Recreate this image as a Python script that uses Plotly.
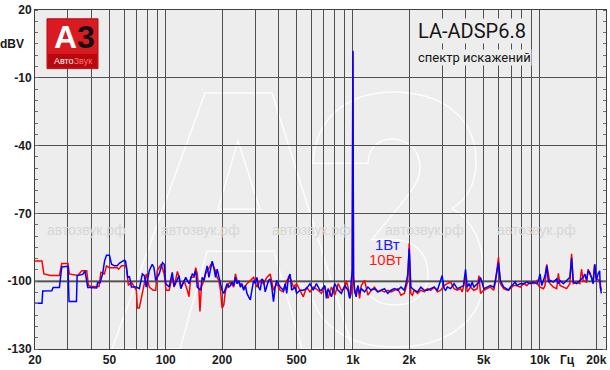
import math
import plotly.graph_objects as go

# ---------------- data ----------------
freq_blue = [20, 21.8, 22.0, 24.6, 25.0, 27.0, 27.8, 30.0, 30.4, 33.3, 33.6, 36.0, 37.0, 38.3, 39.2,
             42.7, 43.2, 44.5, 45.9, 47.1, 48.2, 50.0, 51.3, 53.2, 55.0, 56.6, 60.1, 61.0, 62.6, 64.0,
             65.5, 69.6, 72.2, 75.0, 76.8, 78.6, 81.6, 84.7, 86.5, 88.3, 92.2, 96.0, 98.0, 100.0, 104.2,
             108.3, 110.8, 117.8, 120.3, 125.2, 127.8, 133.1, 138.6, 141.5, 144.5, 147.3, 153.6, 156.6,
             159.9, 163.2, 166.5, 170, 173.5, 177, 180.7, 184.5, 188.2, 192.1, 196.1, 200, 204.2, 208.6,
             212.6, 217, 221.6, 226, 230.8, 235.6, 240.4, 245.4, 250.4, 255.4, 260.8, 266.2, 271.6, 277.2,
             283, 288.6, 294.8, 301, 307, 313.2, 319.8, 326.2, 333, 340, 346.8, 354, 361.4, 368.6, 376.4,
             384.2, 391.8, 408.4, 425.4, 434.2, 442.8, 452.2, 461.6, 470.8, 490.8, 500.4, 521.8, 543.2,
             565.6, 589.6, 613.8, 639, 666.2, 679, 708, 722, 737, 768, 800, 834, 868, 905, 942, 962, 981,
             992, 1000, 1008, 1022, 1041, 1064, 1086, 1108, 1155, 1203, 1252, 1305, 1359, 1415, 1475, 1536,
             1599, 1667, 1736, 1807, 1884, 1922, 1965, 2000, 2040, 2128, 2216, 2308, 2406, 2504, 2608,
             2718, 2830, 2948, 3000, 3072, 3130, 3198, 3330, 3472, 3614, 3764, 3900, 4000, 4084, 4172,
             4254, 4342, 4434, 4522, 4616, 4714, 4808, 4908, 5010, 5218, 5432, 5662, 5774, 6000, 6140,
             6398, 6662, 6802, 6936, 7230, 7374, 7528, 7840, 8174, 8510, 8860, 9236, 9616, 9818, 10000,
             10220, 10436, 10642, 10866, 11092, 11312, 11792, 12282, 12538, 12786, 13330, 13878, 14448,
             14752, 15064, 15686, 16332, 17024, 17360, 17724, 18096, 18452, 18838, 19232, 19612, 20000,
             20440, 20840, 21000, 21280]
db_blue = [-109.8, -109.8, -104.3, -104.2, -102.8, -102.8, -93.7, -93.4, -109.0, -109.0, -97.5, -97.0,
           -95.5, -102.8, -102.8, -103.0, -100.7, -100.7, -97.0, -91.0, -88.5, -88.5, -92.5, -93.2, -93.2,
           -92.0, -90.7, -91.1, -98.3, -98.0, -102.6, -102.6, -103.3, -96.8, -97.5, -102.6, -95.4, -92.5,
           -94.0, -99.7, -96.8, -91.8, -92.5, -101.1, -102.6, -96.1, -102.3, -97.5, -103.3, -99.7, -98.3,
           -101.1, -96.8, -97.5, -95.4, -102.6, -104.0, -98.3, -99.7, -96.1, -93.2, -98.3, -94.0, -91.1,
           -94.0, -98.3, -94.7, -98.3, -101.1, -104.0, -105.4, -102.6, -101.1, -102.6, -101.9, -100.4,
           -101.9, -98.3, -101.1, -99.7, -102.6, -101.1, -104.0, -101.9, -105.4, -106.9, -108.3, -104.0,
           -99.7, -101.1, -98.3, -102.6, -104.0, -99.0, -99.7, -104.7, -102.6, -99.7, -99.0, -102.6,
           -109.0, -102.6, -99.7, -102.6, -104.0, -101.1, -105.4, -98.3, -96.8, -104.0, -102.6, -105.4,
           -104.0, -104.0, -103.3, -101.1, -104.0, -101.1, -104.0, -104.0, -101.9, -107.6, -103.3, -106.9,
           -101.1, -104.0, -105.4, -101.9, -104.0, -107.6, -99.7, -95.0, 2.0, -98.0, -104.0, -106.9, -101.9,
           -105.4, -103.3, -104.7, -102.6, -104.0, -103.3, -104.7, -104.0, -103.3, -105.4, -104.0, -103.3,
           -104.0, -102.6, -104.0, -101.1, -97.0, -85.5, -102.6, -104.0, -104.7, -102.6, -104.0, -104.0,
           -103.3, -102.6, -104.0, -100.0, -97.5, -103.3, -104.0, -102.6, -103.3, -101.1, -103.3, -102.6,
           -102.0, -94.7, -102.6, -101.1, -102.6, -100.4, -102.6, -101.9, -101.1, -100.4, -98.3, -101.1,
           -103.3, -102.6, -101.9, -102.6, -99.7, -91.8, -99.7, -102.6, -103.3, -104.0, -102.6, -101.1,
           -100.4, -101.9, -101.1, -101.1, -100.4, -101.1, -100.4, -101.1, -99.7, -96.8, -101.9, -99.7,
           -97.5, -93.2, -100.4, -99.7, -100.4, -99.0, -101.1, -99.7, -101.1, -99.7, -98.3, -89.6, -100.4,
           -101.1, -99.7, -98.3, -96.8, -99.7, -95.4, -96.1, -98.3, -101.1, -92.5, -99.7, -96.8, -95.4,
           -102.6, -105.4]

freq_red = [20, 21.8, 22.3, 24.2, 27.0, 27.8, 30.0, 30.5, 33.9, 35.6, 37.8, 38.6, 40.0, 44.0, 45.0, 47.0,
            48.2, 50.0, 55.0, 56.0, 58.0, 61.5, 63.1, 65.5, 68.0, 69.6, 70.5, 72.2, 74.9, 78.7, 81.6,
            85.7, 88.3, 90.0, 94.5, 98.0, 100.4, 104.2, 108.3, 110.8, 115.4, 117.8, 120.3, 125.2, 130.4,
            133.1, 135.9, 141.5, 144.5, 147.3, 150.4, 152.3, 155, 159.9, 163.2, 166.5, 173.5, 177, 180.7,
            184.5, 188.2, 192.1, 196.1, 200, 204.2, 208.6, 212.6, 217, 221.6, 230.8, 235.6, 240.4, 250.4,
            260.8, 271.6, 283, 294.8, 307, 319.8, 333, 346.8, 361.4, 376.4, 391.8, 408.4, 425.4, 442.8,
            461.6, 480.6, 500.4, 521.8, 543.2, 565.6, 589.6, 613.8, 639, 652, 679, 708, 737, 768, 800, 834,
            868, 905, 922, 942, 962, 981, 992, 1000, 1008, 1022, 1064, 1086, 1108, 1155, 1203, 1252, 1305,
            1359, 1415, 1475, 1536, 1599, 1667, 1736, 1807, 1884, 1965, 2000, 2040, 2080, 2128, 2216, 2308,
            2406, 2504, 2608, 2718, 2830, 2948, 3072, 3198, 3330, 3472, 3614, 3764, 3842, 4000, 4084, 4254,
            4434, 4616, 4714, 4808, 5010, 5218, 5432, 5662, 5774, 6000, 6140, 6398, 6662, 6936, 7230, 7528,
            7840, 8174, 8510, 8860, 9236, 9616, 9818, 10014, 10436, 10642, 10866, 11312, 11792, 12282,
            12538, 12786, 13330, 13878, 14448, 14752, 15064, 15686, 16332, 16672, 17024, 17724, 18096,
            18452, 19232, 19612, 20000, 20840, 21280]
db_red = [-91.1, -91.1, -96.8, -97.5, -97.5, -92.2, -92.2, -96.8, -97.5, -95.4, -95.4, -101.9, -102.3,
          -102.3, -96.1, -96.8, -93.2, -94.0, -94.0, -94.7, -93.2, -93.2, -101.9, -100.4, -102.6, -104.0,
          -111.9, -111.9, -105.4, -96.8, -102.6, -104.0, -104.0, -95.4, -92.5, -96.8, -104.0, -104.0, -98.3,
          -102.6, -95.7, -98.3, -102.6, -99.7, -104.0, -106.9, -98.3, -98.3, -94.0, -96.8, -104.0, -113.4,
          -102.6, -99.7, -96.8, -95.4, -92.5, -91.8, -94.0, -95.4, -98.3, -99.7, -104.0, -111.9, -110.5,
          -104.0, -102.6, -101.1, -100.4, -102.6, -96.8, -99.7, -101.1, -103.3, -101.1, -99.7, -98.3,
          -102.6, -99.7, -101.1, -98.3, -96.8, -104.0, -101.1, -104.0, -104.7, -99.7, -98.3, -102.6,
          -101.1, -104.0, -106.9, -102.6, -104.7, -102.6, -103.3, -104.0, -105.4, -102.6, -107.6, -102.6,
          -106.2, -101.1, -104.0, -103.3, -99.7, -102.6, -107.6, -105.4, -99.0, 1.5, -99.0, -105.4, -102.6,
          -107.6, -101.9, -99.7, -106.2, -104.0, -102.6, -104.7, -104.0, -104.7, -104.0, -104.7, -104.0,
          -103.3, -106.2, -105.4, -100.0, -83.2, -105.4, -106.2, -104.0, -105.4, -104.0, -104.7, -103.3,
          -104.0, -102.6, -104.7, -104.0, -101.9, -101.1, -100.4, -103.3, -104.0, -103.3, -104.7, -98.3,
          -104.7, -102.6, -104.0, -103.3, -97.5, -105.4, -104.0, -103.3, -102.6, -104.0, -100.4, -89.4,
          -101.1, -103.3, -104.0, -103.3, -101.9, -101.9, -102.6, -101.1, -101.9, -100.4, -101.1, -99.7,
          -101.9, -102.6, -103.3, -101.9, -92.5, -101.1, -102.6, -103.3, -96.5, -101.9, -102.6, -103.3,
          -101.1, -87.9, -101.1, -100.4, -101.1, -94.7, -99.7, -100.4, -94.7, -96.8, -99.7, -92.5, -99.0,
          -99.7, -104.0]

x_grid = [20, 30, 40, 50, 60, 70, 80, 90, 100, 200, 300, 400, 500, 600, 700, 800, 900,
          1000, 2000, 3000, 4000, 5000, 6000, 7000, 8000, 9000, 10000, 20000]
x_labels = {20: "20", 50: "50", 100: "100", 200: "200", 500: "500", 1000: "1k",
            2000: "2k", 5000: "5k", 10000: "10k", 20000: "20k"}
y_ticks = [-130, -100, -70, -40, -10, 20]
y_labels = ["-130", "-100", "-70", "-40", "-10", "20"]

series_names = ["10Вт", "1Вт"]
title_text = "LA-ADSP6.8"
subtitle_text = "спектр искажений"
watermark_text = "автозвук.рф"

# ---------------- layout geometry (pixels) ----------------
W, H = 610, 370
L, R, T, B = 35, 4, 3, 20
PW, PH = W - L - R, H - T - B


def px(x):
    return (x - L) / PW


def py(y):
    return (H - B - y) / PH


def P(a, b):
    return f"{px(a):.4f},{py(b):.4f}"


def path(points):
    return "M " + " L ".join(P(a, b) for a, b in points) + " Z"


def curve_path(segments):
    # segments: list of ("M"/"L"/"C", points)
    out = []
    for cmd, pts in segments:
        out.append(cmd + " " + " ".join(P(a, b) for a, b in pts))
    return " ".join(out) + " Z"


FONT = "Liberation Sans, Arial, sans-serif"


def note(text, x, y, size, color, family=FONT, bold=False, bg=None):
    d = dict(text=text, x=px(x), y=py(y), xref="paper", yref="paper", showarrow=False,
             xanchor="center", yanchor="middle",
             font=dict(family=family, size=size, color=color, weight="bold" if bold else "normal"))
    if bg:
        d.update(bgcolor=bg, borderpad=0)
    return d


fig = go.Figure()
fig.add_trace(go.Scatter(x=freq_red, y=db_red, mode="lines", name=series_names[0],
                         line=dict(color="#ff0000", width=1.5), hoverinfo="skip"))
fig.add_trace(go.Scatter(x=freq_blue, y=db_blue, mode="lines", name=series_names[1],
                         line=dict(color="#0000ff", width=1.5), hoverinfo="skip"))

WM = dict(color="rgba(255,255,255,0.85)", width=1.5)
shapes = []
# faint "A3" watermark outline
shapes.append(dict(type="path", xref="paper", yref="paper", layer="below", line=WM,
                   path=path([(112, 350), (205, 88), (272, 88), (353, 350), (302, 350),
                              (274, 250), (207, 250), (180, 350)])))
shapes.append(dict(type="path", xref="paper", yref="paper", layer="below", line=WM,
                   path=path([(238, 137), (218, 207), (260, 207)])))
shapes.append(dict(type="path", xref="paper", yref="paper", layer="below", line=WM,
                   path=curve_path([
                       ("M", [(313, 160)]),
                       ("C", [(315, 115), (345, 88), (392, 87)]),
                       ("C", [(445, 87), (476, 115), (476, 158)]),
                       ("C", [(476, 182), (466, 198), (452, 206)]),
                       ("C", [(474, 218), (484, 245), (484, 275)]),
                       ("C", [(484, 322), (446, 348), (395, 348)]),
                       ("C", [(346, 348), (313, 322), (310, 285)]),
                       ("L", [(365, 285)]),
                       ("C", [(368, 298), (380, 305), (395, 305)]),
                       ("C", [(415, 305), (428, 293), (428, 273)]),
                       ("C", [(428, 250), (412, 238), (392, 238)]),
                       ("L", [(372, 238), (372, 192), (390, 192)]),
                       ("C", [(408, 192), (420, 182), (420, 165)]),
                       ("C", [(420, 146), (408, 135), (392, 135)]),
                       ("C", [(378, 135), (368, 145), (368, 160)]),
                   ])))
# -100 reference line
shapes.append(dict(type="line", xref="paper", yref="y", x0=0, x1=1, y0=-100, y1=-100,
                   layer="between", line=dict(color="#8a8a8a", width=2.5)))
# logo
shapes.append(dict(type="rect", xref="paper", yref="paper", x0=px(47), x1=px(98), y0=py(63), y1=py(12),
                   fillcolor="#d91a20", line=dict(color="#b50d12", width=1), layer="above"))
shapes.append(dict(type="rect", xref="paper", yref="paper", x0=px(48), x1=px(97), y0=py(62), y1=py(48),
                   fillcolor="#b8080d", line=dict(width=0), layer="above"))

ann = []
ann.append(note("A", 65, 31, 32, "white", family="Liberation Sans", bold=True))
ann.append(note("3", 86, 31, 32, "#111111", family="Liberation Sans", bold=True))
ann.append(note("Авто<span style='color:#ff7070'>Звук</span>", 72.5, 55, 9, "white",
                family="Liberation Sans"))
for cx in [86, 200, 311, 424, 536]:
    ann.append(note(watermark_text, cx, 228, 14, "#d6d6d6"))
ann.append(note(title_text, 472, 25, 20, "#151515", family="Roboto", bg="#ededed"))
ann.append(note(subtitle_text, 474, 52, 13, "#151515", family="Roboto", bg="#ededed"))
ann.append(note(series_names[1], 387, 243, 15, "#1a1aff"))
ann.append(note(series_names[0], 385.5, 258, 15, "#ff1a1a"))
ann.append(note("dBV", 12, 38, 12, "#1a1a1a", bold=True))
ann.append(note("Гц", 567, 361, 12, "#1a1a1a", bold=True))

fig.update_layout(
    width=W, height=H, margin=dict(l=L, r=R, t=T, b=B, pad=0),
    paper_bgcolor="white", plot_bgcolor="#ededed", showlegend=False,
    shapes=shapes, annotations=ann,
    xaxis=dict(type="log", range=[math.log10(20), 4.3528],
               tickmode="array", tickvals=x_grid,
               ticktext=[x_labels.get(v, "") for v in x_grid],
               showgrid=True, gridcolor="#505050", gridwidth=1, zeroline=False,
               showline=True, linecolor="#404040", linewidth=1, mirror=True, ticks="",
               ticklabeloverflow="allow",
               tickfont=dict(family=FONT, size=12, color="#1a1a1a", weight="bold")),
    yaxis=dict(range=[-130, 20], tickmode="array", tickvals=y_ticks, ticktext=y_labels,
               showgrid=True, gridcolor="#505050", gridwidth=1, zeroline=False,
               showline=True, linecolor="#404040", linewidth=1, mirror="allticks", ticks="",
               ticklabeloverflow="allow",
               minor=dict(tick0=-130, dtick=5, ticks="inside", ticklen=3, tickcolor="#707070",
                          showgrid=False),
               tickfont=dict(family=FONT, size=12, color="#1a1a1a", weight="bold")),
)

fig.write_html("out.html", config={"displayModeBar": False},
               post_script="document.body.style.margin='0';")
